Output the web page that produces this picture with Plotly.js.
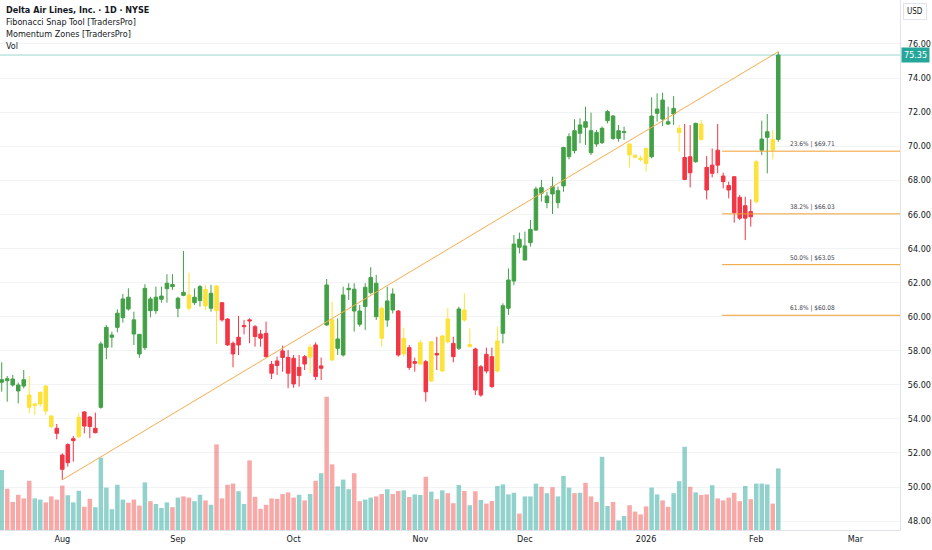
<!DOCTYPE html>
<html>
<head>
<meta charset="utf-8">
<script src="https://cdn.plot.ly/plotly-3.0.1.min.js"></script>
<style>
html,body{margin:0;padding:0;background:#fff;}
#chart{width:932px;height:550px;}
</style>
</head>
<body>
<div id="chart"></div>
<script>
// ---- data (DAL, 1D) ----
const openP = [56.15,56.36,56.34,55.99,56.30,55.40,54.78,54.88,55.93,54.17,
53.45,51.88,51.43,52.72,52.96,54.41,54.11,53.19,54.68,58.20,
58.79,59.37,59.94,61.14,59.81,58.96,58.18,61.04,60.35,61.02,
61.64,61.88,60.49,61.43,61.27,60.82,60.94,61.60,60.49,61.80,
60.82,59.86,58.44,58.34,59.41,59.81,59.41,58.98,59.02,57.20,
57.40,57.99,57.61,57.56,56.54,57.65,57.63,58.34,56.97,61.86,
59.81,58.14,57.75,61.58,61.61,60.33,60.59,61.41,61.96,60.49,
59.80,61.33,60.33,57.81,58.18,57.26,57.22,57.36,56.22,57.84,
56.81,59.86,58.43,58.14,60.39,58.24,58.10,55.40,57.79,57.65,
56.81,59.02,60.49,62.09,64.54,63.32,64.34,65.08,67.57,66.69,
67.63,66.69,67.67,69.39,70.91,70.76,71.44,70.91,70.80,70.21,
71.50,71.77,70.46,70.80,70.13,69.47,69.30,69.87,69.38,71.93,
72.71,71.44,71.89,70.79,68.05,69.38,69.09,71.30,68.76,68.41,
69.77,68.25,67.70,68.21,67.00,65.78,66.16,66.74,69.77,70.52,
70.40,70.40];
const highP = [57.32,56.52,56.58,56.13,56.87,56.52,54.95,55.60,55.99,54.23,
53.70,51.98,52.57,53.00,54.33,54.45,54.17,54.37,58.53,59.51,
59.12,60.43,61.33,61.66,60.29,58.98,61.90,61.17,61.76,61.76,
62.49,62.49,61.17,63.85,62.58,61.66,61.86,61.86,61.86,61.86,
60.82,59.90,58.54,60.04,59.80,59.90,59.51,59.22,59.71,57.40,
57.65,58.30,58.04,57.75,57.75,57.75,58.38,58.49,57.60,62.21,
60.88,59.90,61.76,61.96,61.96,60.69,61.96,62.90,62.45,60.59,
61.76,61.66,60.39,59.35,58.34,57.59,58.63,57.46,58.57,58.82,
58.92,60.49,58.82,60.58,61.36,59.31,58.18,57.16,58.18,58.18,
59.41,60.78,62.83,64.79,64.93,64.99,65.67,67.63,68.02,67.33,
68.21,67.63,69.97,70.76,71.58,71.64,72.32,71.97,70.95,71.15,
72.13,71.83,71.25,71.15,70.17,69.53,69.45,69.93,72.87,73.10,
73.14,72.32,72.94,71.24,71.30,71.24,71.38,71.54,69.42,69.87,
71.30,68.44,67.92,68.25,67.14,67.04,66.88,69.19,71.50,71.89,
70.95,75.55];
const lowP = [55.60,55.01,55.89,54.91,55.79,54.33,54.23,54.72,54.23,53.45,
52.80,50.42,51.20,51.49,52.86,53.15,52.86,53.15,54.60,57.50,
58.18,59.08,59.65,60.35,58.34,57.59,58.04,59.96,60.16,60.82,
60.82,61.57,59.96,61.20,60.35,60.69,60.59,60.39,60.29,58.40,
59.71,58.28,57.03,57.75,58.96,58.44,58.24,58.24,57.60,56.34,
56.58,56.77,55.80,55.83,55.89,56.87,56.68,56.28,56.28,59.47,
57.40,57.75,57.65,60.98,59.12,59.41,59.22,61.31,59.80,58.24,
59.41,60.19,57.65,57.65,56.87,56.77,57.16,55.01,56.18,56.87,
56.77,58.43,57.32,58.04,59.71,58.20,55.40,55.30,56.67,55.83,
56.73,58.43,60.10,61.85,63.71,63.32,64.11,65.04,66.75,66.36,
66.02,66.36,67.33,69.23,69.58,70.17,70.07,69.49,69.97,70.13,
71.34,70.37,70.27,70.37,68.76,69.29,69.10,68.51,69.29,71.44,
71.18,71.24,71.24,69.68,68.01,67.58,69.03,70.32,66.88,68.17,
68.41,67.53,66.94,65.51,65.67,64.49,65.28,66.65,69.48,68.41,
69.23,70.26];
const closeP = [56.30,56.24,55.99,55.64,55.93,54.68,54.88,55.56,54.46,53.55,
53.15,51.04,52.49,52.84,54.09,53.58,53.55,53.45,58.40,59.37,
58.92,60.20,61.04,60.45,58.98,57.81,61.66,60.35,61.14,61.21,
61.96,61.76,61.08,61.25,60.49,61.14,61.76,60.63,61.37,60.35,
59.81,58.34,57.81,58.79,59.47,59.75,58.83,58.73,57.65,56.68,
57.13,57.60,56.68,56.05,57.03,57.22,58.20,56.48,57.11,59.51,
57.46,58.69,61.27,61.66,60.33,59.55,61.72,62.29,60.00,58.73,
60.92,60.39,57.75,58.73,57.02,57.36,58.47,55.59,58.53,57.75,
58.86,58.53,57.65,60.45,59.80,58.37,55.69,57.06,56.81,55.89,
58.57,60.64,62.15,64.26,64.07,64.15,65.12,67.49,67.24,67.08,
67.20,67.39,69.92,70.56,69.74,71.25,71.11,69.62,70.13,71.05,
72.03,70.46,70.91,70.85,69.49,69.35,69.22,68.99,71.77,72.18,
71.59,71.30,72.22,71.05,69.34,68.44,71.34,70.40,67.43,68.89,
68.89,67.92,67.43,66.10,65.78,66.51,65.86,69.09,70.42,70.85,
69.77,75.35];
// Momentum Zones colouring per bar: G = green, R = red, Y = yellow
const zones = ("GGGGGYYYYY" + "RRRRYRRRGG" + "GGGGGGGGGG" + "GGGGYGGYGY" +
  "RRRRRRRRRR" + "RRRRRRYRRG" + "YGGGGGGGGY" + "GGRYRRYRYR" + "YYRGYYRRRR" +
  "YGGGGGGGGG" + "GGGGGGGGGG" + "GGGGYYYYGG" + "GGGYRRGYRR" + "RRRRRRRYGG" + "YG").split('');
// volume, millions
const volume = [15.0,10.3,7.0,8.8,7.9,12.3,7.9,7.6,6.9,8.4,
7.6,11.1,8.7,6.9,9.8,5.8,7.8,5.7,18.1,10.6,
5.2,11.3,7.6,6.8,7.6,6.1,11.9,7.2,6.5,5.5,
6.9,5.7,8.1,8.4,8.1,7.2,8.8,7.4,6.3,21.4,
7.9,11.3,11.6,9.7,6.5,17.4,8.3,5.3,6.3,7.9,
7.8,9.0,9.4,8.1,8.8,7.4,9.0,12.3,14.2,33.3,
16.4,10.9,12.6,10.2,14.2,7.2,7.6,8.1,8.4,9.0,
10.2,9.0,9.75,9.9,8.25,8.9,8.75,13.3,9.6,7.7,
9.9,9.2,6.7,11.25,9.75,6.2,9.7,7.5,6.6,7.25,
11.0,11.4,8.9,9.3,4.1,8.4,8.4,11.6,10.8,9.2,
10.7,8.4,13.5,10.6,9.2,9.3,11.8,8.4,7.0,18.3,
6.0,7.0,2.4,3.5,6.2,4.6,3.9,5.9,10.6,8.9,
7.4,5.8,9.2,12.2,20.8,10.8,9.4,8.75,8.9,11.2,
7.9,7.4,8.1,9.3,7.2,11.0,7.7,11.6,11.6,11.4,
6.6,15.4];
// month labels on the bar-index axis
const tickIdx  = [11, 32, 53, 76, 95, 117, 137, 155];
const tickText = ['Aug','Sep','Oct','Nov','Dec','2026','Feb','Mar'];
// price-scale labels
const priceTicks = [48,50,52,54,56,58,60,62,64,66,68,70,72,74,76];
// Fibonacci levels
const fibRatio = [0.236, 0.382, 0.5, 0.618];
const fibPrice = [69.71, 66.03, 63.05, 60.08];
const legendLines = ['<b>Delta Air Lines, Inc. · 1D · NYSE</b>','Fibonacci Snap Tool [TradersPro]','Momentum Zones [TradersPro]','Vol'];

// ---- build ----
const FONT = 'Liberation Sans Narrow, DejaVu Sans Condensed, Liberation Sans, sans-serif';
const zoneColor = {G:'#43a047', R:'#f23645', Y:'#fde23a'};
const idx = closeP.map((_, i) => i);
const xRange = [-0.31, 163.1];
const traces = [];

traces.push({
  type:'bar', x: idx, y: volume, yaxis:'y', xaxis:'x',
  marker:{color: idx.map(i => closeP[i] >= openP[i] ? 'rgba(38,166,154,0.5)' : 'rgba(239,83,80,0.5)'), line:{width:0}},
  hoverinfo:'skip', showlegend:false
});

['G','R','Y'].forEach(z => {
  const sel = idx.filter(i => zones[i] === z);
  traces.push({
    type:'candlestick', xaxis:'x', yaxis:'y2',
    x: sel, open: sel.map(i=>openP[i]), high: sel.map(i=>highP[i]),
    low: sel.map(i=>lowP[i]), close: sel.map(i=>closeP[i]),
    increasing:{line:{color:zoneColor[z], width:1}, fillcolor:zoneColor[z]},
    decreasing:{line:{color:zoneColor[z], width:1}, fillcolor:zoneColor[z]},
    whiskerwidth:0, hoverinfo:'skip', showlegend:false
  });
});

const last = closeP.length - 1;
traces.push({
  type:'scatter', mode:'lines', xaxis:'x', yaxis:'y2',
  x:[11, last], y:[lowP[11], highP[last]],
  line:{color:'#f6ad4f', width:1}, hoverinfo:'skip', showlegend:false
});

const shapes = [];
shapes.push({type:'line', xref:'paper', x0:0, x1:1, yref:'y2', y0:closeP[last], y1:closeP[last],
  line:{color:'rgba(38,166,154,0.45)', width:1}});
fibPrice.forEach(p => shapes.push({type:'line', xref:'x', x0:130.8, x1:xRange[1], yref:'y2', y0:p, y1:p,
  line:{color:'#f0a030', width:1}}));

const annotations = [];
legendLines.forEach((t, k) => annotations.push({
  text:t, xref:'paper', yref:'paper', x:4/900, y:1 - (10 + 12*k)/530,
  xanchor:'left', yanchor:'middle', showarrow:false,
  font:{family:FONT, size:9, color:'#131722'}
}));
fibPrice.forEach((p, k) => annotations.push({
  text:(fibRatio[k]*100).toFixed(1) + '% | $' + p.toFixed(2),
  xref:'paper', x:788/900, yref:'y2', y:p, xanchor:'left', yanchor:'bottom', yshift:1,
  showarrow:false, font:{family:FONT, size:6.5, color:'#434651'}
}));
annotations.push({text:closeP[last].toFixed(2), xref:'paper', x:1, xanchor:'left', xshift:1,
  yref:'y2', y:closeP[last], yanchor:'middle', showarrow:false, bgcolor:'#26a69a', borderpad:2,
  font:{family:FONT, size:9, color:'#ffffff'}});
annotations.push({text:'USD', xref:'paper', x:915/900, xanchor:'center', yref:'paper', y:1-12/530,
  yanchor:'middle', showarrow:false, bordercolor:'#e0e3eb', borderwidth:1, borderpad:3,
  bgcolor:'#ffffff', font:{family:FONT, size:8, color:'#131722'}});

const layout = {
  width:932, height:550,
  margin:{l:0, r:32, t:0, b:20, pad:0},
  paper_bgcolor:'#ffffff', plot_bgcolor:'#ffffff',
  showlegend:false, bargap:0.18, boxgap:0.2, boxgroupgap:0.2,
  font:{family:FONT, size:9, color:'#131722'},
  xaxis:{range:xRange, tickmode:'array', tickvals:tickIdx, ticktext:tickText,
    showgrid:false, zeroline:false, showline:true, linecolor:'#e0e3eb', ticks:'',
    tickfont:{family:FONT, size:9, color:'#131722'}, rangeslider:{visible:false}, fixedrange:true},
  yaxis:{range:[0, 132.5], visible:false, fixedrange:true},
  yaxis2:{overlaying:'y', side:'right', range:[47.48, 78.58], tickmode:'array', tickvals:priceTicks,
    ticktext:priceTicks.map(v => v.toFixed(2)),
    showgrid:true, gridcolor:'#f2f3f6', zeroline:false, showline:true, linecolor:'#e0e3eb', ticks:'',
    ticklabelstandoff:5, tickfont:{family:FONT, size:9, color:'#131722'}, fixedrange:true},
  shapes:shapes, annotations:annotations
};

Plotly.newPlot('chart', traces, layout, {displayModeBar:false, staticPlot:true});
</script>
</body>
</html>
